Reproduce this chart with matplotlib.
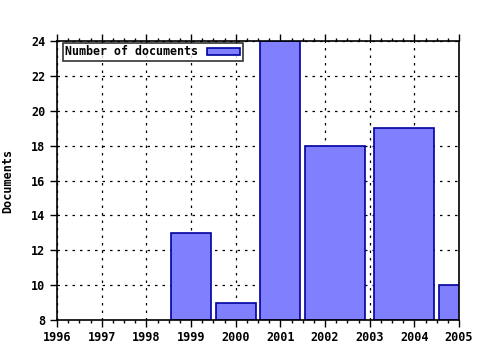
import numpy as np
import matplotlib
matplotlib.use("Agg")
import matplotlib.pyplot as plt
from matplotlib.ticker import MultipleLocator

# documents per year (no entry for 2003)
years = np.array([1999, 2000, 2001, 2002, 2004, 2005], dtype=float)
docs = np.array([13, 9, 24, 18, 19, 10], dtype=float)

ymin, ymax = 8, 24
xmin, xmax = 1996, 2005
boxscale = 0.9

# gnuplot-style auto box widths: half distance to neighbours, scaled
left = np.empty_like(years)
right = np.empty_like(years)
for i in range(len(years)):
    dxr = (years[i + 1] - years[i]) / 2 if i < len(years) - 1 else None
    dxl = (years[i] - years[i - 1]) / 2 if i > 0 else None
    if dxl is None:
        dxl = dxr
    if dxr is None:
        dxr = dxl
    left[i] = years[i] - dxl * boxscale
    right[i] = years[i] + dxr * boxscale

plt.rcParams["font.family"] = "DejaVu Sans Mono"
plt.rcParams["font.weight"] = "bold"
plt.rcParams["axes.labelweight"] = "bold"
plt.rcParams["font.size"] = 8.5

fig = plt.figure(figsize=(4.8, 3.5), dpi=100)
ax = fig.add_axes([57 / 480, 30 / 350, 402 / 480, 279 / 350])

ax.bar(left, docs - ymin, width=right - left, bottom=ymin, align="edge",
       color="#8080ff", edgecolor="#0000a0", linewidth=1.2,
       label="Number of documents", zorder=3)

ax.set_xlim(xmin, xmax)
ax.set_ylim(ymin, ymax)
ax.xaxis.set_major_locator(MultipleLocator(1))
ax.xaxis.set_minor_locator(MultipleLocator(0.25))
ax.yaxis.set_major_locator(MultipleLocator(2))

ax.grid(True, which="major", color="black", linestyle=(0, (2, 4)), linewidth=0.9, zorder=0)

ax.tick_params(axis="x", which="both", direction="out", top=True, bottom=True, colors="black")
ax.tick_params(axis="x", which="major", length=5, width=1, pad=3)
ax.tick_params(axis="x", which="minor", length=2.5, width=1)
ax.tick_params(axis="y", which="major", direction="out", length=5, width=1, right=False)
for s in ax.spines.values():
    s.set_linewidth(1.2)
    s.set_zorder(4)

ax.set_ylabel("Documents", labelpad=12)

leg = ax.legend(loc="upper left", bbox_to_anchor=(6 / 402, 1 - 2 / 279),
                frameon=True, fancybox=False, markerfirst=False, fontsize=8.4,
                handlelength=2.9, handleheight=0.6, borderpad=0.2,
                borderaxespad=0.0, handletextpad=0.7)
leg.get_frame().set_edgecolor("black")
leg.get_frame().set_linewidth(1.2)
leg.set_zorder(5)

fig.savefig("out.png", dpi=100)
